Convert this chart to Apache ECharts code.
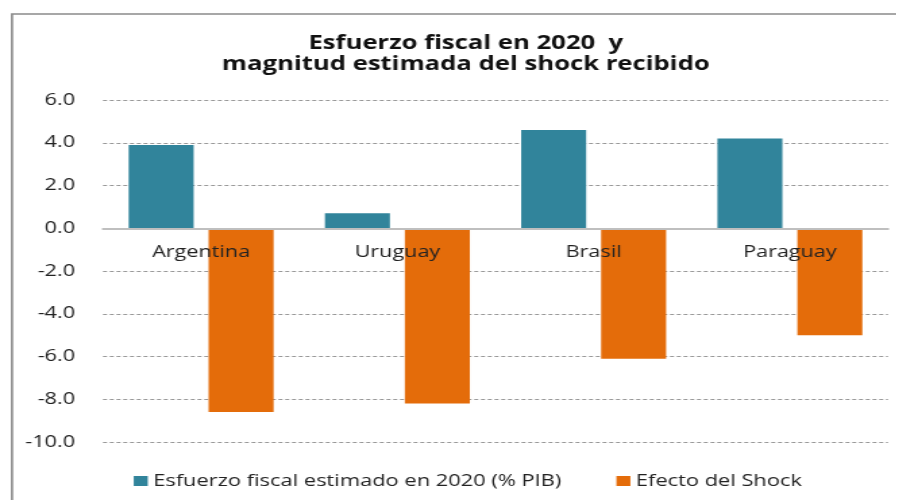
<!DOCTYPE html>
<html><head><meta charset="utf-8">
<script src="https://cdn.jsdelivr.net/npm/echarts@6/dist/echarts.min.js"></script>
<style>
html,body{margin:0;padding:0;background:#fff;overflow:hidden}
#wrap{width:897px;height:500px;overflow:hidden;position:relative}
#c{height:500px;transform-origin:0 0;position:absolute;left:0;top:0}
</style>
</head><body><div id="wrap"><div id="c"></div></div>
<script>
const categories = ['Argentina', 'Uruguay', 'Brasil', 'Paraguay'];
const esfuerzo = [3.9, 0.7, 4.6, 4.2];
const shock = [-8.6, -8.2, -6.1, -5.0];
const seriesNames = ['Esfuerzo fiscal estimado en 2020 (% PIB)', 'Efecto del Shock'];
const titleText = 'Esfuerzo fiscal en 2020  y\nmagnitud estimada del shock recibido';

// The reference picture is stretched horizontally; reproduce that with a CSS scale.
const S = 1.35;
const W = 897 / S;
const el = document.getElementById('c');
el.style.width = W + 'px';
el.style.transform = 'scaleX(' + S + ')';

const X = v => v / S; // reference x (px) -> local x
const chart = echarts.init(el, null, {renderer: 'canvas', width: W, height: 500});
const font = 'Open Sans';
chart.setOption({
  animation: false,
  backgroundColor: '#fff',
  graphic: [{
    type: 'rect', z: 100, silent: true,
    shape: {x: X(12), y: 14, width: 900, height: 520},
    style: {fill: 'none', stroke: '#8a8a8a', lineWidth: 1.6}
  }],
  title: {
    text: titleText, left: X(459), top: 28, textAlign: 'center',
    textStyle: {fontFamily: font, fontWeight: 'bold', fontSize: 19, lineHeight: 21, color: '#111'}
  },
  legend: {
    top: 468, left: X(127), itemWidth: X(14), itemHeight: 10, itemGap: X(55),
    icon: 'rect',
    textStyle: {fontFamily: font, fontSize: 16.2, color: '#222', padding: [0, 0, 0, -1]},
    data: seriesNames
  },
  grid: {left: X(103), right: W - X(888), top: 100, bottom: 58, containLabel: false},
  xAxis: {
    type: 'category', data: categories, z: 10,
    axisLine: {onZero: true, lineStyle: {color: '#bfbfbf', width: 2}},
    axisTick: {show: false},
    axisLabel: {fontFamily: font, fontSize: 16, color: '#222', margin: -198}
  },
  yAxis: {
    type: 'value', min: -10, max: 6, interval: 2,
    axisLine: {show: false}, axisTick: {show: false},
    axisLabel: {fontFamily: font, fontSize: 16, color: '#222', margin: X(28), formatter: v => v.toFixed(1)},
    splitLine: {lineStyle: {color: '#999', type: [3, 2], width: 1}}
  },
  series: [
    {name: seriesNames[0], type: 'bar', data: esfuerzo, barWidth: X(65), barGap: '23%',
     itemStyle: {color: '#31849b'}},
    {name: seriesNames[1], type: 'bar', data: shock, barWidth: X(65),
     itemStyle: {color: '#e46c0a'}}
  ]
});
</script></body></html>
